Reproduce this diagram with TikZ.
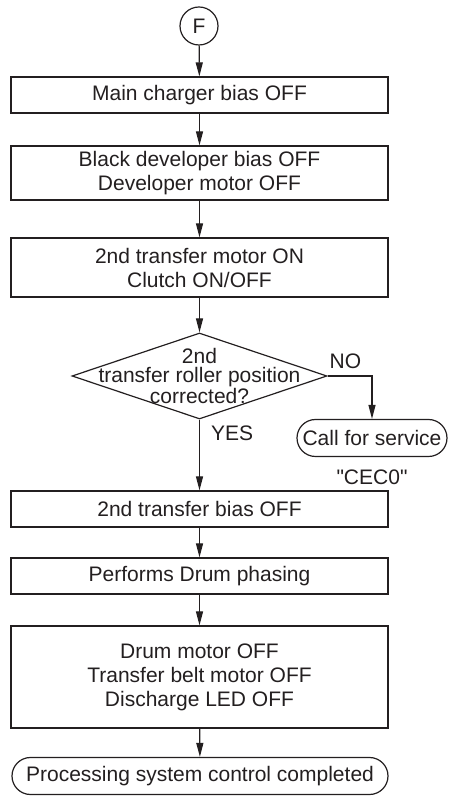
\documentclass[tikz,border=0pt]{standalone}
\usepackage{fontspec}
\setmainfont{Liberation Sans}[Ligatures=TeXOff]
\usepackage{tikz}
\usetikzlibrary{arrows.meta,shapes.geometric,shapes.misc}
\definecolor{flowInk}{HTML}{231F20}

\begin{document}
\begin{tikzpicture}[x=1pt,y=1pt,>={Triangle[length=14pt,width=7pt]},
  font=\fontsize{21}{24}\selectfont,
  stepbox/.style={draw=flowInk,line width=1.2pt,minimum width=377pt,minimum height=#1,align=center,inner sep=0pt,text=flowInk},
  terminal/.style={draw=flowInk,rounded rectangle,line width=1.2pt,minimum width=#1,minimum height=37pt,inner sep=0pt,text=flowInk},
  decision/.style={draw=flowInk,diamond,line width=1.2pt,minimum width=255pt,minimum height=86pt,inner sep=0pt},
  tag/.style={inner sep=0pt,text=flowInk},
  link/.style={->,draw=flowInk,line width=1.2pt}
]
  \useasboundingbox (0,0) rectangle (452,796);

  \node[circle,draw=flowInk,line width=1.2pt,minimum size=38pt,inner sep=0pt,text=flowInk] (start) at (199,770) {F};
  \node[stepbox=36pt] (charger) at (199.5,701) {Main charger bias OFF};
  \node[stepbox=54pt] (developer) at (199.5,623) {Black developer bias OFF\\Developer motor OFF};
  \node[stepbox=59pt] (motoron) at (199.5,528.5) {2nd transfer motor ON\\Clutch ON/OFF};

  \node[decision] (check) at (199.5,420) {};
  \node[tag,align=center,font=\fontsize{21}{19.5}\selectfont] (checktext) at (check)
    {2nd\\transfer roller position\\corrected?};

  \node[terminal=150pt] (service) at (372,358) {Call for service};
  \node[tag] (code) at (372,319) {"CEC0"};

  \node[stepbox=36pt] (biasoff) at (199.5,287) {2nd transfer bias OFF};
  \node[stepbox=36pt] (phasing) at (199.5,220) {Performs Drum phasing};
  \node[stepbox=102pt] (drumoff) at (199.5,119) {Drum motor OFF\\Transfer belt motor OFF\\Discharge LED OFF};
  \node[terminal=376pt] (done) at (200,20) {Processing system control completed};

  \draw[link] (start) -- (charger);
  \draw[link] (charger) -- (developer);
  \draw[link] (developer) -- (motoron);
  \draw[link] (motoron) -- (check);
  \draw[link] (check.east) -| node[tag,pos=0.2,above=7pt] {NO} (service.north);
  \draw[link] (check.south) -- node[tag,pos=0.19,right=11pt] {YES} (biasoff.north);
  \draw[link] (biasoff) -- (phasing);
  \draw[link] (phasing) -- (drumoff);
  \draw[link] (drumoff) -- (done);
\end{tikzpicture}
\end{document}
